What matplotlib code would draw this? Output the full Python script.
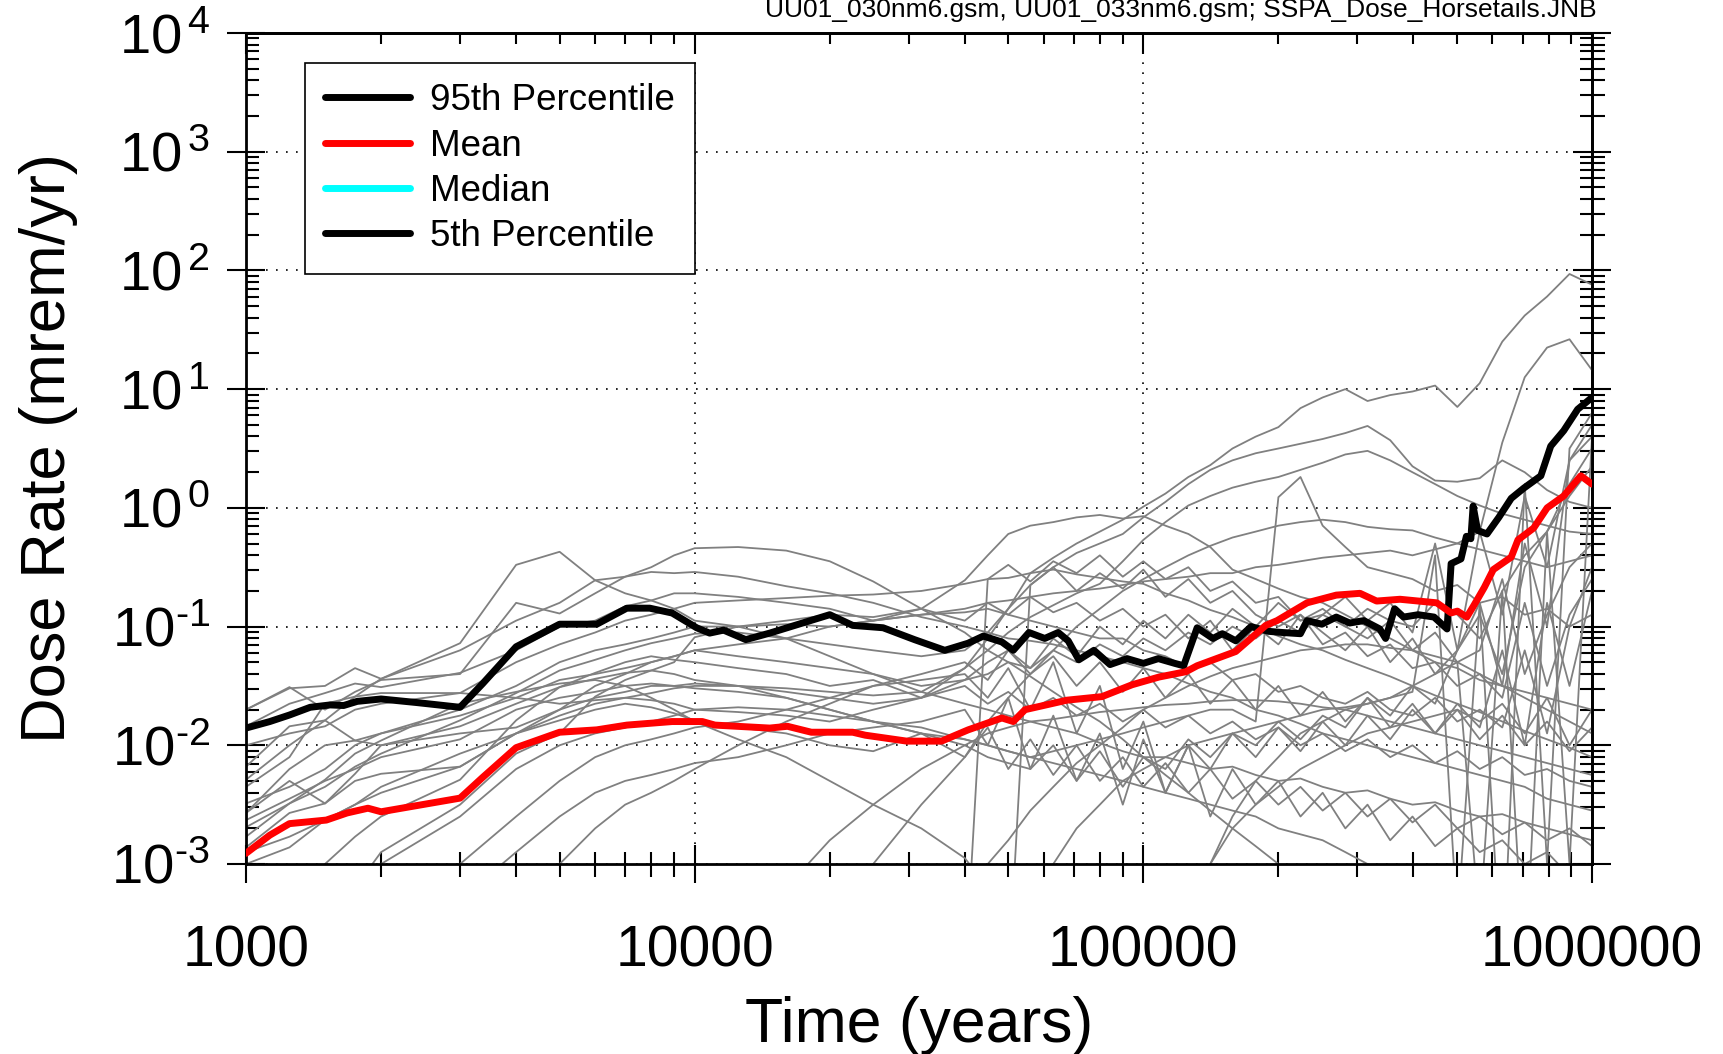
import numpy as np
import matplotlib
matplotlib.use("Agg")
import matplotlib.pyplot as plt
from matplotlib.ticker import LogLocator, FuncFormatter, NullFormatter

plt.rcParams['font.family'] = ['Liberation Sans', 'DejaVu Sans']
plt.rcParams['mathtext.fontset'] = 'custom'
plt.rcParams['mathtext.rm'] = 'Liberation Sans'
plt.rcParams['mathtext.it'] = 'Liberation Sans:italic'
plt.rcParams['mathtext.bf'] = 'Liberation Sans:bold'

# time grid shared by the individual realizations (years)
years = [1000, 1250, 1500, 1750, 2000, 3000, 4000, 5000, 6000, 7000, 8000, 9000, 10000,
         12500, 16000, 20000, 25000, 32000, 40000, 45000, 50000, 56000, 63000, 71000, 80000, 90000,
         100000, 112000, 126000, 141000, 158000, 178000, 200000, 224000, 251000, 282000, 316000,
         355000, 398000, 447000, 501000, 562000, 631000, 708000, 794000, 891000, 1000000]

# log10 of dose rate (mrem/yr) for each realization, -4 = below plot range
real_01 = [-1.70, -1.52, -1.50, -1.35, -1.44, -1.14, -0.48, -0.37, -0.61, -0.72, -0.78, -0.85, -0.95,
           -1.00, -1.10, -1.25, -1.40, -1.55, -1.65, -1.70, -1.75, -1.80, -1.85, -1.90, -1.98, -2.05,
           -2.10, -2.10, -2.15, -2.20, -2.18, -2.25, -2.30, -2.28, -2.35, -2.40, -2.38, -2.45, -2.50,
           -2.48, -2.55, -2.60, -2.58, -2.65, -2.70, -2.75, -2.80]
real_02 = [-1.70, -1.51, -1.70, -1.55, -1.45, -1.40, -0.80, -0.89, -0.72, -0.58, -0.50, -0.40, -0.34,
           -0.33, -0.36, -0.45, -0.62, -0.85, -1.05, -1.20, -1.30, -1.42, -1.55, -1.68, -1.80, -1.95,
           -2.10, -2.25, -2.40, -2.55, -2.70, -2.85, -3.00, -3.15, -3.30, -4.00, -4.00, -4.00, -4.00,
           -4.00, -4.00, -4.00, -4.00, -4.00, -4.00, -4.00, -4.00]
real_03 = [-2.29, -2.00, -1.79, -1.59, -1.44, -1.20, -0.95, -0.80, -0.61, -0.58, -0.54, -0.55, -0.54,
           -0.58, -0.66, -0.72, -0.80, -0.92, -1.00, -1.05, -1.10, -1.12, -1.15, -1.20, -1.25, -1.30,
           -1.35, -1.40, -1.48, -1.55, -1.60, -1.70, -1.75, -1.82, -1.90, -1.95, -2.00, -2.05, -2.10,
           -2.15, -2.20, -2.25, -2.30, -2.35, -2.45, -2.50, -2.55]
real_04 = [-1.84, -1.65, -1.56, -1.48, -1.51, -1.39, -1.20, -1.00, -0.95, -0.83, -0.78, -0.72, -0.72,
           -0.75, -0.80, -0.85, -0.95, -0.85, -0.61, -0.40, -0.22, -0.15, -0.12, -0.08, -0.06, -0.09,
           -0.07, -0.15, -0.22, -0.33, -0.52, -0.60, -0.68, -0.75, -0.80, -0.90, -1.00, -1.10, -1.20,
           -1.30, -1.35, -1.45, -1.50, -1.55, -1.60, -1.65, -1.70]
real_05 = [-2.00, -1.90, -1.84, -1.70, -1.65, -1.56, -1.30, -1.15, -1.05, -0.95, -0.90, -0.85, -0.80,
           -0.78, -0.76, -0.74, -0.73, -0.70, -0.64, -0.60, -0.59, -0.55, -0.52, -0.56, -0.59, -0.62,
           -0.64, -0.72, -0.78, -0.86, -0.92, -1.00, -1.08, -1.15, -1.20, -1.28, -1.35, -1.42, -1.50,
           -1.58, -1.65, -1.72, -1.80, -1.88, -1.95, -2.02, -2.10]
real_06 = [-2.86, -2.57, -2.49, -2.30, -2.24, -2.18, -1.90, -1.70, -1.60, -1.55, -1.50, -1.50, -1.48,
           -1.50, -1.55, -1.60, -1.65, -1.60, -1.35, -1.10, -0.85, -0.55, -0.42, -0.30, -0.20, -0.10,
           0.01, 0.12, 0.26, 0.36, 0.50, 0.60, 0.68, 0.84, 0.93, 1.00, 0.90, 0.95, 0.98,
           1.03, 0.85, 1.05, 1.40, 1.62, 1.78, 1.97, 1.88]
real_07 = [-2.57, -2.20, -2.00, -1.96, -1.90, -1.70, -1.50, -1.30, -1.20, -1.15, -1.10, -1.05, -1.00,
           -1.00, -0.98, -1.00, -0.95, -0.90, -0.85, -0.80, -0.78, -0.75, -0.72, -0.70, -0.68, -0.65,
           -0.62, -0.60, -0.58, -0.55, -0.55, -0.50, -0.48, -0.45, -0.42, -0.40, -0.38, -0.36, -0.40,
           -0.35, -0.30, -0.20, 0.55, 1.10, 1.35, 1.42, 1.16]
real_08 = [-2.69, -2.49, -2.35, -2.18, -2.07, -1.79, -1.56, -1.37, -1.28, -1.20, -1.14, -1.10, -1.06,
           -1.05, -1.10, -1.15, -1.20, -1.25, -1.20, -1.05, -0.85, -0.65, -0.50, -0.38, -0.30, -0.22,
           -0.08, 0.05, 0.20, 0.32, 0.40, 0.46, 0.50, 0.54, 0.58, 0.63, 0.69, 0.57, 0.35,
           0.23, 0.22, 0.25, 0.40, 0.30, 0.15, 0.05, 0.00]
real_09 = [-2.90, -2.77, -2.63, -2.50, -2.40, -2.18, -1.90, -1.75, -1.65, -1.60, -1.56, -1.52, -1.50,
           -1.50, -1.52, -1.55, -1.58, -1.55, -1.35, -1.20, -1.05, -0.92, -0.82, -0.72, -0.64, -0.45,
           -0.27, -0.12, 0.02, 0.10, 0.17, 0.22, 0.26, 0.32, 0.38, 0.45, 0.48, 0.40, 0.30,
           0.20, 0.10, 0.02, -0.05, -0.10, -0.15, -0.20, -0.22]
real_10 = [-4.00, -4.00, -4.00, -4.00, -4.00, -4.00, -4.00, -4.00, -4.00, -4.00, -4.00, -4.00, -4.00,
           -4.00, -4.00, -4.00, -4.00, -4.00, -4.00, -0.60, -0.48, -0.62, -0.45, -0.55, -0.40, -0.58,
           -0.45, -0.60, -0.50, -0.70, -0.62, -0.80, -0.75, -0.95, -0.85, -1.00, -1.10, -0.95, -1.20,
           -1.05, -1.30, -1.20, -0.60, -1.40, -0.90, -0.50, -0.30]
real_11 = [-4.00, -4.00, -4.00, -4.00, -4.00, -4.00, -4.00, -4.00, -4.00, -4.00, -4.00, -4.00, -4.00,
           -4.00, -4.00, -4.00, -4.00, -4.00, -4.00, -4.00, -4.00, -0.65, -0.50, -0.70, -0.55, -0.68,
           -0.52, -0.75, -0.60, -0.80, -0.70, -0.90, -1.00, -0.90, -1.15, -1.05, -1.25, -1.15, -1.35,
           -1.30, -1.50, -1.40, -1.60, -0.80, -1.50, -0.90, -0.60]
real_12 = [-2.63, -2.45, -2.30, -2.20, -2.10, -1.95, -1.70, -1.60, -1.55, -1.50, -1.48, -1.50, -1.52,
           -1.55, -1.60, -1.70, -1.80, -1.90, -1.95, -2.00, -2.05, -2.10, -2.05, -2.00, -1.95, -1.90,
           -1.85, -1.80, -1.75, -1.70, -1.70, -1.80, 0.09, 0.26, -0.15, -0.33, -0.50, -0.55, -0.60,
           -0.70, -0.65, -0.80, -0.75, -0.90, -0.85, -1.00, -0.90]
real_13 = [-2.18, -1.84, -1.79, -1.96, -2.00, -1.90, -1.85, -1.70, -1.50, -1.40, -1.30, -1.25, -1.20,
           -1.15, -1.10, -1.00, -0.95, -0.90, -0.88, -0.85, -0.90, -0.95, -1.00, -1.05, -1.10, -1.10,
           -1.20, -1.25, -1.35, -1.30, -1.45, -1.40, -1.55, -1.50, -1.60, -1.65, -1.55, -1.70, -1.75,
           -1.60, -1.80, -1.70, -1.85, -1.20, -1.90, -1.00, -0.50]
real_14 = [-2.35, -2.10, -1.65, -1.59, -1.56, -1.56, -1.60, -1.65, -1.62, -1.60, -1.62, -1.65, -1.70,
           -1.72, -1.75, -1.80, -1.70, -1.60, -1.45, -1.40, -1.30, -1.35, -1.20, -1.30, -1.15, -1.25,
           -1.10, -1.20, -1.05, -1.15, -1.00, -1.10, -0.95, -1.05, -0.90, -1.00, -0.85, -0.95, -1.00,
           -0.80, -0.90, -1.10, -0.70, -0.40, -0.20, 0.10, 0.35]
real_15 = [-2.57, -2.30, -2.49, -2.24, -2.00, -1.84, -1.65, -1.51, -1.44, -1.39, -1.37, -1.40, -1.45,
           -1.50, -1.60, -1.70, -1.80, -1.90, -2.00, -2.10, -2.15, -2.20, -2.00, -2.30, -2.05, -2.35,
           -2.10, -2.20, -1.95, -2.10, -1.90, -2.00, -1.80, -1.95, -1.75, -1.85, -1.60, -1.75, -1.50,
           -1.65, -1.20, -0.90, -1.40, -0.50, -0.20, 0.20, 0.50]
real_16 = [-3.00, -2.86, -2.63, -2.50, -2.35, -2.07, -1.90, -1.79, -1.70, -1.65, -1.68, -1.73, -1.79,
           -1.85, -1.90, -2.00, -2.05, -1.90, -2.10, -1.85, -2.20, -1.95, -2.25, -2.00, -2.30, -2.10,
           -2.35, -2.15, -2.40, -2.20, -2.45, -2.30, -2.50, -2.35, -2.55, -2.40, -2.60, -2.45, -2.65,
           -2.50, -2.70, -2.60, -2.75, -2.65, -2.80, -2.70, -2.85]
real_17 = [-4.00, -3.50, -3.00, -2.77, -2.60, -2.29, -1.79, -1.51, -1.39, -1.30, -1.25, -1.28, -1.30,
           -1.35, -1.40, -1.50, -1.45, -1.60, -1.50, -1.65, -1.55, -1.70, -1.60, -1.75, -1.65, -1.80,
           -1.70, -1.85, -1.75, -1.90, -1.80, -1.95, -1.85, -2.00, -1.90, -2.05, -1.95, -2.10, -2.00,
           -2.15, -2.05, -2.20, -2.10, -2.25, -2.20, -2.30, -2.35]
real_18 = [-4.00, -4.00, -3.60, -3.20, -2.90, -2.50, -2.07, -1.90, -1.59, -1.45, -1.37, -1.30, -1.09,
           -1.00, -0.95, -0.90, -0.92, -0.85, -0.95, -0.80, -0.90, -0.75, -0.88, -0.80, -0.95, -0.85,
           -1.00, -0.90, -1.10, -0.95, -1.20, -1.00, -1.15, -0.90, -1.05, -1.20, -1.00, -1.30, -1.10,
           -1.40, -1.20, -0.80, -1.50, -0.30, -1.00, 0.40, 0.60]
real_19 = [-2.77, -2.49, -2.29, -2.07, -1.96, -1.65, -1.55, -1.48, -1.45, -1.50, -1.60, -1.70, -1.80,
           -1.95, -2.10, -2.30, -2.50, -2.70, -2.95, -3.20, -3.50, -4.00, -4.00, -4.00, -4.00, -4.00,
           -4.00, -4.00, -3.50, -3.00, -2.70, -2.50, -2.35, -2.20, -2.10, -2.00, -1.90, -1.85, -1.80,
           -1.75, -1.70, -1.80, -1.65, -1.90, -1.60, -2.00, -1.70]
real_20 = [-4.00, -4.00, -4.00, -3.50, -3.00, -2.60, -2.20, -2.00, -1.90, -1.85, -1.80, -1.75, -1.70,
           -1.68, -1.70, -1.75, -1.80, -1.85, -1.95, -2.00, -2.05, -2.10, -2.15, -2.20, -2.25, -2.30,
           -2.35, -2.40, -2.45, -2.50, -2.55, -2.60, -2.70, -2.75, -2.80, -2.90, -3.00, -3.10, -3.20,
           -3.30, -3.40, -3.50, -4.00, -4.00, -4.00, -4.00, -4.00]
real_21 = [-4.00, -4.00, -4.00, -4.00, -4.00, -4.00, -4.00, -4.00, -4.00, -4.00, -4.00, -4.00, -4.00,
           -4.00, -4.00, -4.00, -4.00, -3.80, -3.30, -3.00, -2.80, -2.55, -2.35, -2.15, -2.00, -1.85,
           -1.70, -1.60, -1.50, -1.42, -1.35, -1.30, -1.25, -1.20, -1.18, -1.15, -1.15, -1.18, -1.20,
           -1.25, -1.30, -1.40, -1.50, -1.60, -1.70, -1.80, -1.90]
real_22 = [-4.00, -4.00, -4.00, -4.00, -4.00, -4.00, -4.00, -4.00, -4.00, -4.00, -4.00, -4.00, -4.00,
           -3.80, -3.20, -2.80, -2.50, -2.20, -2.00, -1.90, -1.85, -1.80, -1.78, -1.75, -1.72, -1.70,
           -1.68, -1.66, -1.65, -1.63, -1.62, -1.62, -1.63, -1.65, -1.68, -1.70, -1.75, -1.80, -1.85,
           -1.90, -1.95, -2.00, -2.05, -2.10, -2.15, -2.20, -2.25]
real_23 = [-4.00, -4.00, -4.00, -4.00, -4.00, -4.00, -3.50, -3.00, -2.70, -2.50, -2.40, -2.30, -2.20,
           -2.00, -1.80, -1.65, -1.50, -1.40, -1.30, -1.45, -1.20, -1.40, -1.25, -1.50, -1.30, -1.55,
           -1.35, -1.60, -1.40, -1.65, -1.45, -1.70, -1.50, -1.75, -1.55, -1.80, -1.60, -1.85, -1.65,
           -1.90, -1.70, -1.95, -1.75, -2.00, -1.80, -2.05, -1.85]
real_24 = [-4.00, -4.00, -4.00, -4.00, -4.00, -3.30, -2.90, -2.60, -2.40, -2.30, -2.25, -2.20, -2.15,
           -2.10, -2.00, -1.90, -1.85, -1.80, -1.70, -2.00, -1.60, -2.20, -1.75, -2.30, -1.90, -2.50,
           -1.95, -2.40, -2.00, -2.20, -1.90, -2.10, -1.85, -2.05, -1.80, -2.00, -1.75, -1.95, -1.70,
           -1.90, -1.65, -1.85, -1.20, -2.00, -0.80, -1.50, -0.70]
real_25 = [-4.00, -4.00, -4.00, -4.00, -3.60, -3.00, -2.60, -2.30, -2.10, -2.00, -1.95, -1.90, -1.85,
           -1.80, -1.70, -1.60, -1.50, -1.45, -1.40, -1.60, -1.35, -1.70, -1.30, -1.90, -1.50, -2.20,
           -1.80, -2.40, -2.00, -2.60, -2.20, -2.50, -2.30, -2.60, -2.40, -2.70, -2.50, -2.80, -2.60,
           -2.85, -2.70, -2.90, -2.80, -3.00, -2.90, -3.10, -3.00]
real_26 = [-4.00, -4.00, -4.00, -4.00, -4.00, -4.00, -4.00, -4.00, -4.00, -4.00, -4.00, -4.00, -4.00,
           -4.00, -4.00, -4.00, -4.00, -4.00, -4.00, -4.00, -4.00, -3.50, -3.00, -2.70, -2.50, -2.30,
           -2.20, -2.10, -2.00, -1.95, -1.90, -1.85, -1.80, -1.75, -1.70, -1.68, -1.65, -1.60, -1.55,
           -0.40, -3.50, -0.80, -4.00, 0.20, -3.00, 0.50, 0.80]
real_27 = [-4.00, -4.00, -4.00, -4.00, -4.00, -4.00, -4.00, -4.00, -4.00, -4.00, -4.00, -4.00, -4.00,
           -4.00, -4.00, -4.00, -4.00, -4.00, -4.00, -4.00, -4.00, -4.00, -4.00, -4.00, -4.00, -4.00,
           -4.00, -4.00, -3.50, -3.00, -2.60, -2.30, -2.10, -1.90, -1.80, -1.70, -1.65, -1.60, -1.50,
           -1.40, -1.30, -3.50, -0.70, -4.00, -0.20, -3.00, 0.60]
real_28 = [-2.49, -2.35, -2.20, -2.00, -1.90, -1.75, -1.60, -1.45, -1.40, -1.35, -1.30, -1.25, -1.20,
           -1.25, -1.30, -1.35, -1.40, -1.50, -1.45, -1.30, -1.20, -1.35, -1.10, -1.25, -1.00, -1.15,
           -0.95, -1.10, -0.90, -1.05, -0.85, -1.00, -0.80, -0.95, -0.90, -0.75, -0.95, -0.80, -1.05,
           -0.30, -1.20, -0.20, -0.90, 0.10, -0.50, 0.40, 0.70]
real_29 = [-4.00, -4.00, -4.00, -4.00, -4.00, -4.00, -4.00, -4.00, -4.00, -4.00, -4.00, -4.00, -4.00,
           -4.00, -4.00, -3.50, -3.00, -2.50, -2.10, -1.80, -1.60, -1.40, -1.20, -1.00, -0.85, -0.70,
           -0.60, -0.50, -0.40, -0.32, -0.25, -0.20, -0.15, -0.12, -0.10, -0.12, -0.16, -0.18, -0.19,
           -0.25, -0.30, -0.35, -0.40, -0.45, -0.50, -0.45, -0.40]

realizations = [real_01, real_02, real_03, real_04, real_05, real_06, real_07, real_08, real_09,
                real_10, real_11, real_12, real_13, real_14, real_15, real_16, real_17, real_18,
                real_19, real_20, real_21, real_22, real_23, real_24, real_25, real_26, real_27,
                real_28, real_29]

# 95th percentile, log10 of dose rate
p95_years = [1000, 1130, 1250, 1390, 1540, 1650, 1770, 2000, 2400, 3000, 3370, 4000, 5000, 6050,
             7060, 7940, 8910, 10100, 10800, 11600, 13000, 14700, 17400, 20000, 22500, 26300, 30900,
             36100, 40700, 44000, 48400, 51300, 55600, 60300, 64600, 68000, 71800, 77600, 84300,
             92000, 100000, 108000, 117500, 123000, 131800, 142900, 150000, 160700, 173800, 190000,
             204200, 223900, 231700, 250000, 269200, 288400, 310000, 336500, 346700, 363100, 380200,
             410000, 444600, 475300, 485300, 510500, 524800, 537000, 543300, 555900, 583400, 620000,
             660700, 704700, 769100, 809100, 864900, 929000, 1000000]
p95_log = [-1.855, -1.80, -1.745, -1.68, -1.66, -1.665, -1.63, -1.61, -1.64, -1.68, -1.48, -1.17,
           -0.98, -0.98, -0.845, -0.845, -0.886, -1.01, -1.055, -1.03, -1.11, -1.055, -0.97, -0.90,
           -0.99, -1.01, -1.11, -1.20, -1.14, -1.08, -1.13, -1.20, -1.05, -1.10, -1.05, -1.12, -1.28,
           -1.20, -1.32, -1.27, -1.31, -1.27, -1.31, -1.33, -1.01, -1.10, -1.06, -1.12, -1.00, -1.04,
           -1.05, -1.06, -0.95, -0.98, -0.92, -0.97, -0.95, -1.02, -1.10, -0.85, -0.92, -0.90,
           -0.92, -1.02, -0.47, -0.43, -0.24, -0.26, 0.015, -0.19, -0.22, -0.08, 0.08, 0.166,
           0.27, 0.52, 0.65, 0.83, 0.93]

# mean, log10 of dose rate
mean_years = [1000, 1130, 1250, 1510, 1680, 1870, 2000, 3000, 3370, 4000, 5000, 6050, 7060, 8910,
              10400, 11100, 14700, 16100, 18200, 22500, 24000, 29700, 35500, 40700, 48400, 51300,
              54500, 67600, 80900, 94400, 108400, 124500, 131800, 160700, 187500, 198600, 231700,
              269200, 304100, 331100, 373300, 450800, 485300, 501200, 526000, 545800, 575400,
              602600, 660700, 683900, 741300, 794300, 864900, 944100, 1000000]
mean_log = [-2.91, -2.757, -2.66, -2.63, -2.57, -2.53, -2.56, -2.445, -2.27, -2.02, -1.89, -1.87,
            -1.83, -1.80, -1.80, -1.83, -1.855, -1.84, -1.89, -1.89, -1.915, -1.965, -1.965, -1.87,
            -1.77, -1.80, -1.70, -1.62, -1.59, -1.49, -1.425, -1.38, -1.33, -1.21, -0.99, -0.95,
            -0.80, -0.735, -0.72, -0.785, -0.77, -0.80, -0.885, -0.87, -0.92, -0.82, -0.67, -0.52,
            -0.415, -0.27, -0.17, 0.0, 0.10, 0.27, 0.20]

title_text = "UU01_030nm6.gsm, UU01_033nm6.gsm; SSPA_Dose_Horsetails.JNB"


def decade_label(v, pos):
    e = int(round(np.log10(v)))
    if e < 0:
        return r'$\mathdefault{10^{\text{-}%d}}$' % -e
    return r'$\mathdefault{10^{\,%d}}$' % e


fig = plt.figure(figsize=(17.23, 10.54), dpi=100)
ax = fig.add_axes([246 / 1723, 1 - 864 / 1054, 1346 / 1723, 831 / 1054])
ax.set_xscale('log')
ax.set_yscale('log')

for r in realizations:
    ax.plot(years, 10.0 ** np.array(r), color='#808080', lw=1.3, zorder=2)

ax.plot(p95_years, 10.0 ** np.array(p95_log), color='black', lw=5, zorder=3,
        solid_capstyle='round', solid_joinstyle='round', label='95th Percentile')
ax.plot(mean_years, 10.0 ** np.array(mean_log), color='red', lw=5, zorder=4,
        solid_capstyle='round', solid_joinstyle='round', label='Mean')
# median and 5th percentile stay below 1e-3 over the whole period
ax.plot([], [], color='cyan', lw=5, solid_capstyle='round', label='Median')
ax.plot([], [], color='black', lw=5, solid_capstyle='round', label='5th Percentile')

ax.set_xlim(1000, 1e6)
ax.set_ylim(1e-3, 1e4)

ax.xaxis.set_major_locator(LogLocator(base=10, numticks=20))
ax.xaxis.set_minor_locator(LogLocator(base=10, subs=np.arange(2, 10), numticks=20))
ax.yaxis.set_major_locator(LogLocator(base=10, numticks=20))
ax.yaxis.set_minor_locator(LogLocator(base=10, subs=np.arange(2, 10), numticks=20))
ax.xaxis.set_major_formatter(FuncFormatter(lambda v, p: "%d" % round(v)))
ax.xaxis.set_minor_formatter(NullFormatter())
ax.yaxis.set_major_formatter(FuncFormatter(decade_label))
ax.yaxis.set_minor_formatter(NullFormatter())

ax.tick_params(axis='x', which='major', direction='inout', length=27, width=1.5, pad=30,
               labelsize=41, top=False)
ax.tick_params(axis='x', which='minor', direction='inout', length=18, width=1.5, top=False)
ax.tick_params(axis='y', which='major', direction='inout', length=28, width=1.5, pad=12,
               labelsize=40.5, right=False)
ax.tick_params(axis='y', which='minor', direction='in', length=9.5, width=1.5, right=False)

# top and right frame ticks
secx = ax.secondary_xaxis('top')
secx.xaxis.set_major_locator(LogLocator(base=10, numticks=20))
secx.xaxis.set_minor_locator(LogLocator(base=10, subs=np.arange(2, 10), numticks=20))
secx.xaxis.set_major_formatter(NullFormatter())
secx.xaxis.set_minor_formatter(NullFormatter())
secx.tick_params(which='major', direction='in', length=15, width=1.5)
secx.tick_params(which='minor', direction='in', length=8, width=1.5)
secy = ax.secondary_yaxis('right')
secy.yaxis.set_major_locator(LogLocator(base=10, numticks=20))
secy.yaxis.set_minor_locator(LogLocator(base=10, subs=np.arange(2, 10), numticks=20))
secy.yaxis.set_major_formatter(NullFormatter())
secy.yaxis.set_minor_formatter(NullFormatter())
secy.tick_params(which='major', direction='inout', length=28, width=1.5)
secy.tick_params(which='minor', direction='inout', length=18, width=1.5)

for s in list(ax.spines.values()) + list(secx.spines.values()) + list(secy.spines.values()):
    s.set_linewidth(2)

ax.grid(which='major', color='black', linestyle=(0, (1, 5)), linewidth=1.2)

ax.set_xlabel('Time (years)', fontsize=45)
ax.xaxis.set_label_coords(0.5, -0.159)
ax.set_ylabel('Dose Rate (mrem/yr)', fontsize=45.5)
ax.yaxis.set_label_coords(-0.125, 0.5)

leg = ax.legend(loc='upper left', bbox_to_anchor=(0.0438, 0.9639), borderaxespad=0,
                fontsize=26.5, handlelength=2.3, handletextpad=0.55, labelspacing=0.28,
                borderpad=0.55, fancybox=False, framealpha=1, edgecolor='black')
leg.get_frame().set_linewidth(1.2)

fig.text(1597 / 1723, 1 - 16.7 / 1054, title_text, ha='right', va='baseline', fontsize=19)

fig.savefig('out.png', dpi=100)
